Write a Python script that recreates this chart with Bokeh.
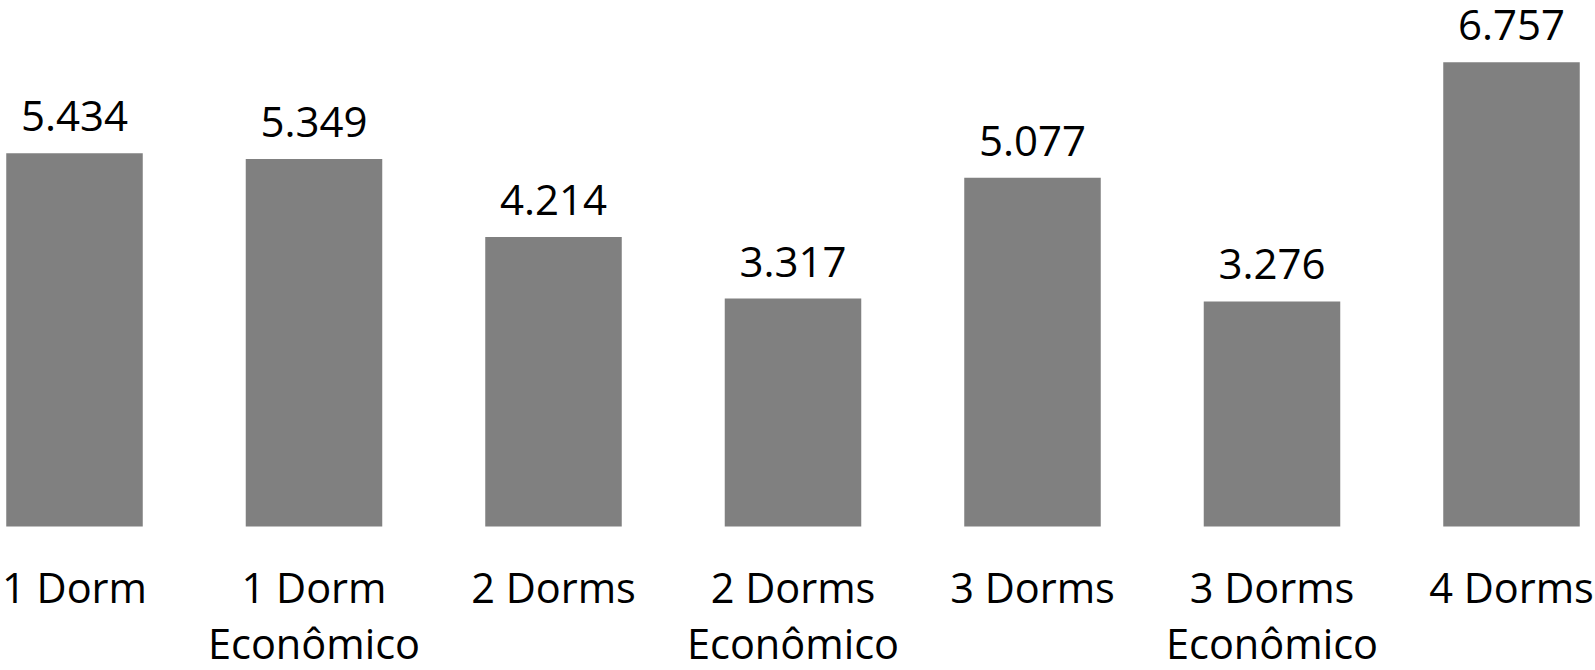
from bokeh.plotting import figure
from bokeh.models import ColumnDataSource, Range1d
from bokeh.core.properties import value
from bokeh.embed import file_html
from bokeh.resources import INLINE

categories = ["1 Dorm", "1 Dorm Econômico", "2 Dorms", "2 Dorms Econômico",
              "3 Dorms", "3 Dorms Econômico", "4 Dorms"]
label_line1 = ["1 Dorm", "1 Dorm", "2 Dorms", "2 Dorms", "3 Dorms", "3 Dorms", "4 Dorms"]
label_line2 = ["", "Econômico", "", "Econômico", "", "Econômico", ""]
values = [5.434, 5.349, 4.214, 3.317, 5.077, 3.276, 6.757]
value_labels = ["5.434", "5.349", "4.214", "3.317", "5.077", "3.276", "6.757"]

xs = list(range(len(categories)))
src = ColumnDataSource(dict(x=xs, top=values, lab=value_labels,
                            l1=label_line1, l2=label_line2, zero=[0] * len(xs)))

W, H = 1595, 670
# frame px: first centre at 74, spacing 239.5, bar base at 526, 68.7 px per unit
x0 = -74 / 239.5
x1 = (W - 74) / 239.5
y1 = 526 / 68.7
y0 = -(H - 526) / 68.7
p = figure(width=W, height=H, output_backend="svg", toolbar_location=None,
           x_range=Range1d(x0, x1), y_range=Range1d(y0, y1),
           min_border=0, min_border_left=0, min_border_right=0,
           min_border_top=0, min_border_bottom=0)
p.axis.visible = False
p.grid.visible = False
p.outline_line_color = None
p.background_fill_color = "white"
p.border_fill_color = "white"

p.vbar(x="x", top="top", bottom=0, width=0.570, source=src,
       fill_color="#808080", line_color=None)

font = value("Open Sans")
p.text(x="x", y="top", text="lab", source=src, text_align="center",
       text_baseline="alphabetic", y_offset=-37, text_font=font,
       text_font_size="42px", text_color="black")
p.text(x="x", y="zero", text="l1", source=src, text_align="center",
       text_baseline="alphabetic", y_offset=60, text_font=font,
       text_font_size="41.5px", text_color="black")
p.text(x="x", y="zero", text="l2", source=src, text_align="center",
       text_baseline="alphabetic", y_offset=116, text_font=font,
       text_font_size="41.5px", text_color="black")

open("out.html", "w").write(file_html(p, INLINE))
